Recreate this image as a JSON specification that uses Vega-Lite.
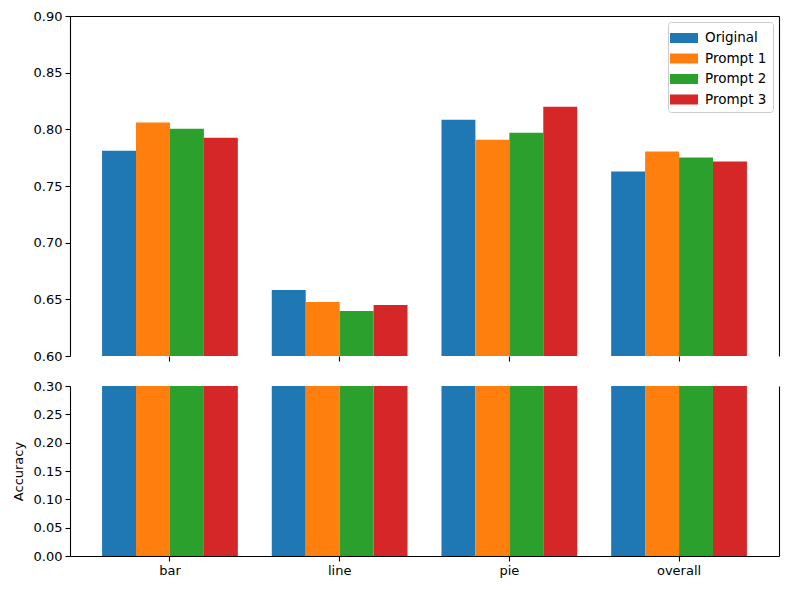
{
  "$schema": "https://vega.github.io/schema/vega-lite/v6.json",
  "padding": {"left": 12, "top": 10, "right": 21, "bottom": 11},
  "background": "white",
  "data": {
    "values": [
      {"category": "bar", "prompt": "Original", "value": 0.781},
      {"category": "bar", "prompt": "Prompt 1", "value": 0.806},
      {"category": "bar", "prompt": "Prompt 2", "value": 0.8005},
      {"category": "bar", "prompt": "Prompt 3", "value": 0.7926},
      {"category": "line", "prompt": "Original", "value": 0.6582},
      {"category": "line", "prompt": "Prompt 1", "value": 0.6476},
      {"category": "line", "prompt": "Prompt 2", "value": 0.6397},
      {"category": "line", "prompt": "Prompt 3", "value": 0.645},
      {"category": "pie", "prompt": "Original", "value": 0.8085},
      {"category": "pie", "prompt": "Prompt 1", "value": 0.7909},
      {"category": "pie", "prompt": "Prompt 2", "value": 0.797},
      {"category": "pie", "prompt": "Prompt 3", "value": 0.8199},
      {"category": "overall", "prompt": "Original", "value": 0.7628},
      {"category": "overall", "prompt": "Prompt 1", "value": 0.7804},
      {"category": "overall", "prompt": "Prompt 2", "value": 0.7751},
      {"category": "overall", "prompt": "Prompt 3", "value": 0.7716}
    ]
  },
  "spacing": 30,
  "bounds": "flush",
  "vconcat": [
    {
      "width": 709,
      "height": 340,
      "layer": [
        {
          "mark": {"type": "bar", "clip": true},
          "encoding": {
            "x": {
              "field": "category",
              "type": "nominal",
              "sort": ["bar", "line", "pie", "overall"],
              "scale": {"paddingInner": 0.2, "paddingOuter": 0.189},
              "axis": {"labels": false, "domain": false, "title": null}
            },
            "xOffset": {
              "field": "prompt",
              "type": "nominal",
              "scale": {"paddingInner": 0, "paddingOuter": 0}
            },
            "y": {
              "field": "value",
              "type": "quantitative",
              "scale": {"domain": [0.6, 0.9], "zero": false, "nice": false},
              "axis": {"values": [0.6, 0.65, 0.7, 0.75, 0.8, 0.85, 0.9], "format": ".2f", "title": null}
            },
            "color": {
              "field": "prompt",
              "type": "nominal",
              "scale": {
                "domain": ["Original", "Prompt 1", "Prompt 2", "Prompt 3"],
                "range": ["#1f77b4", "#ff7f0e", "#2ca02c", "#d62728"]
              },
              "legend": {
                "title": null,
                "orient": "top-right",
                "offset": 6,
                "padding": 6,
                "fillColor": "white",
                "strokeColor": "#cccccc",
                "cornerRadius": 3,
                "symbolType": "M-1.4,-0.5H1.4V0.5H-1.4Z",
                "symbolSize": 400,
                "symbolStrokeWidth": 0,
                "symbolOpacity": 1,
                "labelFontSize": 13.5,
                "labelFont": "DejaVu Sans",
                "labelColor": "black",
                "rowPadding": 3.5,
                "labelOffset": 11
              }
            }
          }
        },
        {
          "mark": {"type": "bar", "opacity": 0, "clip": true},
          "encoding": {
            "x": {
              "field": "category",
              "type": "nominal",
              "sort": ["bar", "line", "pie", "overall"],
              "axis": {"orient": "top", "labels": false, "ticks": false, "title": null}
            },
            "y": {
              "field": "value",
              "type": "quantitative",
              "axis": {"orient": "right", "labels": false, "ticks": false, "title": null}
            }
          }
        }
      ],
      "resolve": {"axis": {"x": "independent", "y": "independent"}}
    },
    {
      "width": 709,
      "height": 170,
      "layer": [
        {
          "mark": {"type": "bar", "clip": true},
          "encoding": {
            "x": {
              "field": "category",
              "type": "nominal",
              "sort": ["bar", "line", "pie", "overall"],
              "scale": {"paddingInner": 0.2, "paddingOuter": 0.189},
              "axis": {"title": null, "labelAngle": 0}
            },
            "xOffset": {
              "field": "prompt",
              "type": "nominal",
              "scale": {"paddingInner": 0, "paddingOuter": 0}
            },
            "y": {
              "field": "value",
              "type": "quantitative",
              "scale": {"domain": [0, 0.3], "nice": false},
              "axis": {"values": [0, 0.05, 0.1, 0.15, 0.2, 0.25, 0.3], "format": ".2f", "title": "Accuracy"}
            },
            "color": {
              "field": "prompt",
              "type": "nominal",
              "scale": {
                "domain": ["Original", "Prompt 1", "Prompt 2", "Prompt 3"],
                "range": ["#1f77b4", "#ff7f0e", "#2ca02c", "#d62728"]
              },
              "legend": null
            }
          }
        },
        {
          "mark": {"type": "bar", "opacity": 0, "clip": true},
          "encoding": {
            "y": {
              "field": "value",
              "type": "quantitative",
              "axis": {"orient": "right", "labels": false, "ticks": false, "title": null}
            }
          }
        }
      ],
      "resolve": {"axis": {"y": "independent"}}
    }
  ],
  "resolve": {"legend": {"color": "independent"}},
  "config": {
    "view": {"stroke": null},
    "axis": {
      "grid": false,
      "labelFont": "DejaVu Sans",
      "labelFontSize": 13,
      "labelColor": "black",
      "titleFont": "DejaVu Sans",
      "titleFontSize": 13,
      "titleFontWeight": "normal",
      "titleColor": "black",
      "domainColor": "black",
      "domainWidth": 1.1,
      "tickColor": "black",
      "tickWidth": 1.1,
      "tickSize": 5,
      "labelPadding": 3,
      "titlePadding": 8
    }
  }
}
